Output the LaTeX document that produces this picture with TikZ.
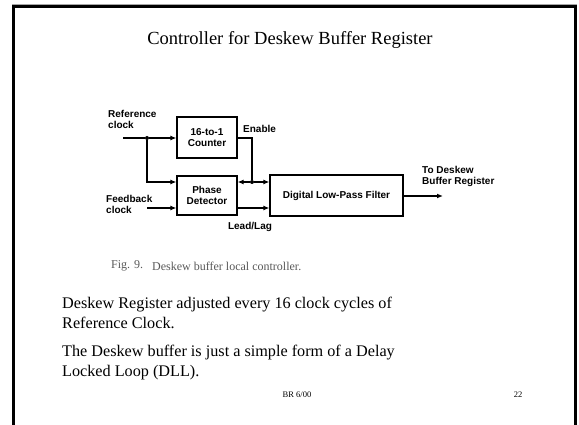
\documentclass[tikz,border=0pt]{standalone}
\usepackage{fontspec}
\setmainfont{Liberation Serif}
\setsansfont{Liberation Sans}
\usetikzlibrary{arrows.meta, positioning}

\begin{document}
\begin{tikzpicture}[
            x=1pt, y=-1pt,
            >={Latex[width=5pt,length=6pt]},
                base/.style = {rectangle, draw=black, line width=1.2pt,
                            font=\sffamily\bfseries\fontsize{10}{11}\selectfont,
                            align=center, inner sep=0pt},
                block/.style = {base, minimum width=60pt, minimum height=40pt},
                sigtext/.style = {font=\sffamily\bfseries\fontsize{10}{11}\selectfont,
                            align=left, inner sep=0pt},
                wire/.style = {line width=1.2pt},
                junction/.style = {circle, fill=black, inner sep=0pt, minimum size=4pt},
                slidetext/.style = {font=\fontsize{16.2}{20}\selectfont, inner sep=0pt,
                            align=left},
                titletext/.style = {font=\fontsize{18.5}{22}\selectfont, inner sep=0pt},
                smalltext/.style = {font=\fontsize{8.5}{10}\selectfont, inner sep=0pt},
                captiontext/.style = {font=\fontsize{12}{14}\selectfont, text=black!65,
                            inner sep=0pt}]
            \useasboundingbox (0,0) rectangle (579,425);
            % slide frame
            \draw[black!35, line width=1pt] (12,5) -- (577,5);
            \draw[line width=3pt] (13.5,430) -- (13.5,7) -- (575.5,7) -- (575.5,430);
            \node (title) [titletext] at (290,40) {Controller for Deskew Buffer Register};
            % blocks
            \node (Counter) [block, minimum height=41pt] at (207,137.5) {16-to-1\\Counter};
            \node (Phase) [block, minimum height=39pt] at (207,195.5) {Phase\\Detector};
            \node (Filter) [base, minimum width=133pt, minimum height=41pt] at (336.5,195.5)
                {Digital Low-Pass Filter};
            % signal labels
            \node (RefText) [sigtext, anchor=west] at (108,119) {Reference\\clock};
            \node (FbText) [sigtext, anchor=west] at (106,204) {Feedback\\clock};
            \node (EnText) [sigtext, anchor=west] at (243,129) {Enable};
            \node (LagText) [sigtext] at (250,227) {Lead/Lag};
            \node (OutText) [sigtext, anchor=west] at (422,176) {To Deskew\\Buffer Register};
            \coordinate (RefIn) at (123,138);
            \coordinate (FbIn) at (147,208);
            \coordinate (OutEnd) at (443,196);
            \node (RefDot) [junction] at (147,138) {};
            \node (EnDot) [junction] at (252,182) {};
            % connections
            \draw[wire, ->] (RefIn) -- (RefDot) -- (Counter.west |- RefDot);
            \draw[wire, ->] (RefDot) |- (Phase.west |- EnDot);
            \draw[wire, ->] (FbIn) -- (Phase.west |- FbIn);
            \draw[wire] (Counter.east |- RefDot) -| (EnDot);
            \draw[wire, ->] (EnDot) -- (Phase.east |- EnDot);
            \draw[wire, ->] (EnDot) -- (Filter.west |- EnDot);
            \draw[wire, ->] (Phase.east |- FbIn) -- (Filter.west |- FbIn);
            \draw[wire, ->] (Filter.east |- OutEnd) -- (OutEnd);
            % caption and body text
            \node (FigNo) [captiontext, anchor=west] at (111,266) {Fig. 9.};
            \node (FigText) [captiontext, anchor=west] at (152,266) {Deskew buffer local controller.};
            \node (Line1) [slidetext, anchor=north west] at (62,297)
                {Deskew Register adjusted every 16 clock cycles of\\Reference Clock.};
            \node (Line2) [slidetext, anchor=north west] at (62,345)
                {The Deskew buffer is just a simple form of a Delay\\Locked Loop (DLL).};
            \node (Footer) [smalltext] at (297,395) {BR 6/00};
            \node (PageNo) [smalltext] at (518,395) {22};
\end{tikzpicture}
\end{document}
